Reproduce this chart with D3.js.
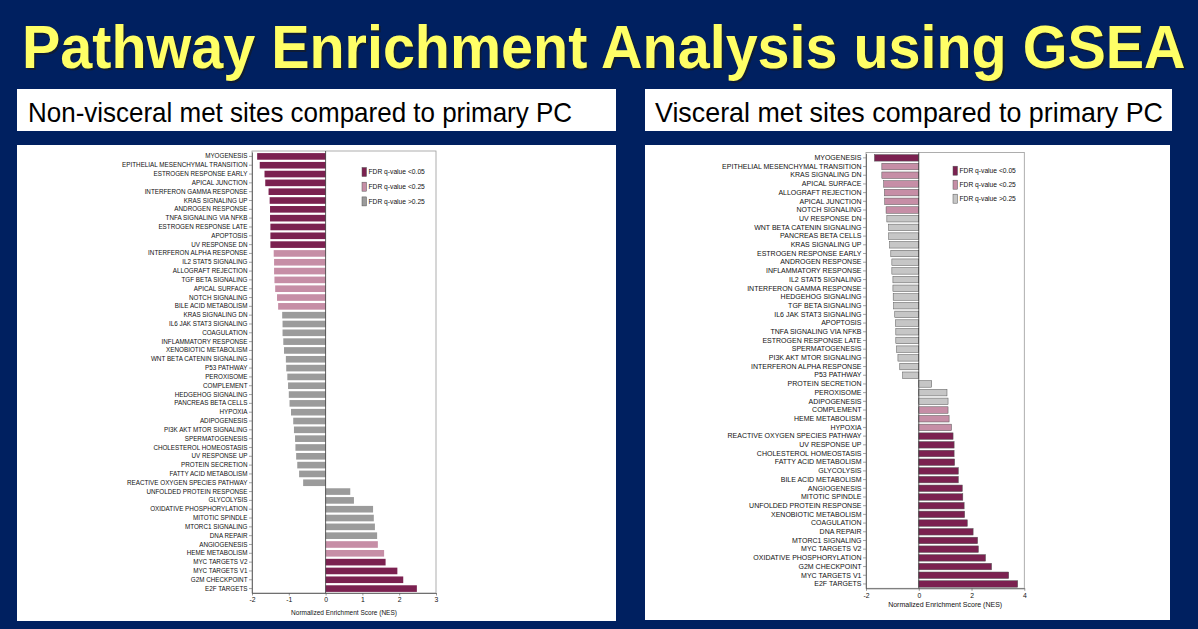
<!DOCTYPE html>
<html>
<head>
<meta charset="utf-8">
<script src="https://cdn.jsdelivr.net/npm/d3@7"></script>
<style>
  body { margin: 0; background: #002060; }
  svg { display: block; }
</style>
</head>
<body>
<svg id="slide" width="1198" height="629"></svg>
<script>
// FDR classes: "a" = q<0.05, "b" = q<0.25, "c" = q>0.25
const fdrLabels = ["FDR q-value <0.05", "FDR q-value <0.25", "FDR q-value >0.25"];

const leftPathways = [
  "MYOGENESIS", "EPITHELIAL MESENCHYMAL TRANSITION", "ESTROGEN RESPONSE EARLY", "APICAL JUNCTION",
  "INTERFERON GAMMA RESPONSE", "KRAS SIGNALING UP", "ANDROGEN RESPONSE", "TNFA SIGNALING VIA NFKB",
  "ESTROGEN RESPONSE LATE", "APOPTOSIS", "UV RESPONSE DN", "INTERFERON ALPHA RESPONSE",
  "IL2 STAT5 SIGNALING", "ALLOGRAFT REJECTION", "TGF BETA SIGNALING", "APICAL SURFACE",
  "NOTCH SIGNALING", "BILE ACID METABOLISM", "KRAS SIGNALING DN", "IL6 JAK STAT3 SIGNALING",
  "COAGULATION", "INFLAMMATORY RESPONSE", "XENOBIOTIC METABOLISM", "WNT BETA CATENIN SIGNALING",
  "P53 PATHWAY", "PEROXISOME", "COMPLEMENT", "HEDGEHOG SIGNALING",
  "PANCREAS BETA CELLS", "HYPOXIA", "ADIPOGENESIS", "PI3K AKT MTOR SIGNALING",
  "SPERMATOGENESIS", "CHOLESTEROL HOMEOSTASIS", "UV RESPONSE UP", "PROTEIN SECRETION",
  "FATTY ACID METABOLISM", "REACTIVE OXYGEN SPECIES PATHWAY", "UNFOLDED PROTEIN RESPONSE", "GLYCOLYSIS",
  "OXIDATIVE PHOSPHORYLATION", "MITOTIC SPINDLE", "MTORC1 SIGNALING", "DNA REPAIR",
  "ANGIOGENESIS", "HEME METABOLISM", "MYC TARGETS V2", "MYC TARGETS V1",
  "G2M CHECKPOINT", "E2F TARGETS"
];
const leftNES = [
  -1.86, -1.79, -1.66, -1.64, -1.55, -1.52, -1.51, -1.51, -1.50, -1.50,
  -1.50, -1.41, -1.40, -1.40, -1.39, -1.37, -1.32, -1.29, -1.18, -1.17,
  -1.17, -1.15, -1.13, -1.08, -1.07, -1.04, -1.02, -1.00, -0.98, -0.94,
  -0.88, -0.86, -0.83, -0.82, -0.80, -0.77, -0.72, -0.61, 0.67, 0.77,
  1.29, 1.31, 1.34, 1.40, 1.42, 1.59, 1.63, 1.95, 2.11, 2.48
];
const leftFDR = [
  "a", "a", "a", "a", "a", "a", "a", "a", "a", "a",
  "a", "b", "b", "b", "b", "b", "b", "b", "c", "c",
  "c", "c", "c", "c", "c", "c", "c", "c", "c", "c",
  "c", "c", "c", "c", "c", "c", "c", "c", "c", "c",
  "c", "c", "c", "c", "b", "b", "a", "a", "a", "a"
];
const leftTicks = [-2, -1, 0, 1, 2, 3];

const rightPathways = [
  "MYOGENESIS", "EPITHELIAL MESENCHYMAL TRANSITION", "KRAS SIGNALING DN", "APICAL SURFACE",
  "ALLOGRAFT REJECTION", "APICAL JUNCTION", "NOTCH SIGNALING", "UV RESPONSE DN",
  "WNT BETA CATENIN SIGNALING", "PANCREAS BETA CELLS", "KRAS SIGNALING UP", "ESTROGEN RESPONSE EARLY",
  "ANDROGEN RESPONSE", "INFLAMMATORY RESPONSE", "IL2 STAT5 SIGNALING", "INTERFERON GAMMA RESPONSE",
  "HEDGEHOG SIGNALING", "TGF BETA SIGNALING", "IL6 JAK STAT3 SIGNALING", "APOPTOSIS",
  "TNFA SIGNALING VIA NFKB", "ESTROGEN RESPONSE LATE", "SPERMATOGENESIS", "PI3K AKT MTOR SIGNALING",
  "INTERFERON ALPHA RESPONSE", "P53 PATHWAY", "PROTEIN SECRETION", "PEROXISOME",
  "ADIPOGENESIS", "COMPLEMENT", "HEME METABOLISM", "HYPOXIA",
  "REACTIVE OXYGEN SPECIES PATHWAY", "UV RESPONSE UP", "CHOLESTEROL HOMEOSTASIS", "FATTY ACID METABOLISM",
  "GLYCOLYSIS", "BILE ACID METABOLISM", "ANGIOGENESIS", "MITOTIC SPINDLE",
  "UNFOLDED PROTEIN RESPONSE", "XENOBIOTIC METABOLISM", "COAGULATION", "DNA REPAIR",
  "MTORC1 SIGNALING", "MYC TARGETS V2", "OXIDATIVE PHOSPHORYLATION", "G2M CHECKPOINT",
  "MYC TARGETS V1", "E2F TARGETS"
];
const rightNES = [
  -1.68, -1.40, -1.40, -1.33, -1.30, -1.29, -1.24, -1.21, -1.14, -1.14,
  -1.10, -1.06, -1.02, -1.02, -0.98, -0.98, -0.97, -0.95, -0.91, -0.88,
  -0.87, -0.87, -0.84, -0.79, -0.72, -0.61, 0.49, 1.07, 1.11, 1.11,
  1.15, 1.24, 1.30, 1.34, 1.34, 1.36, 1.50, 1.50, 1.65, 1.67,
  1.72, 1.74, 1.84, 2.06, 2.23, 2.26, 2.53, 2.76, 3.41, 3.75
];
const rightFDR = [
  "a", "b", "b", "b", "b", "b", "b", "c", "c", "c",
  "c", "c", "c", "c", "c", "c", "c", "c", "c", "c",
  "c", "c", "c", "c", "c", "c", "c", "c", "c", "b",
  "b", "b", "a", "a", "a", "a", "a", "a", "a", "a",
  "a", "a", "a", "a", "a", "a", "a", "a", "a", "a"
];
const rightTicks = [-2, 0, 2, 4];

const svg = d3.select("#slide");

// title: squeeze horizontally with a transform so it fills 22..1186
const title = "Pathway Enrichment Analysis using GSEA";
const titleG = svg.append("g");
const shadow = titleG.append("text")
    .attr("x", 2).attr("y", 2)
    .attr("font-family", "Liberation Sans, Arial, sans-serif")
    .attr("font-weight", "bold").attr("font-size", 62)
    .attr("fill", "#1a1a1a").attr("opacity", 0.6)
    .text(title);
const main = titleG.append("text")
    .attr("x", 0).attr("y", 0)
    .attr("font-family", "Liberation Sans, Arial, sans-serif")
    .attr("font-weight", "bold").attr("font-size", 62)
    .attr("fill", "#ffff66")
    .text(title);
const natural = main.node().getComputedTextLength();
titleG.attr("transform", `translate(22,68) scale(${1164 / natural},1)`);

function panel(opt) {
    // subtitle box
    svg.append("rect")
        .attr("x", opt.box[0]).attr("y", 89)
        .attr("width", opt.box[1] - opt.box[0]).attr("height", 42)
        .attr("fill", "#fff");
    svg.append("text")
        .attr("x", opt.subX).attr("y", 122)
        .attr("textLength", opt.subW).attr("lengthAdjust", "spacingAndGlyphs")
        .attr("font-family", "Liberation Sans, Arial, sans-serif")
        .attr("font-size", 28).attr("fill", "#000")
        .text(opt.subtitle);

    // chart background
    svg.append("rect")
        .attr("x", opt.box[0]).attr("y", 145)
        .attr("width", opt.chartR - opt.box[0]).attr("height", opt.chartB - 145)
        .attr("fill", "#fff");

    const g = svg.append("g");

    const x = d3.scaleLinear()
        .domain(d3.extent(opt.ticks))
        .range(opt.xRange);

    const y = d3.scaleBand()
        .domain(opt.names)
        .range(opt.yRange)
        .paddingInner(0.25)
        .paddingOuter(0.125);

    const top = opt.yRange[0] - 1;
    const bottom = opt.yRange[1];

    // frame
    g.append("rect")
        .attr("x", x.range()[0]).attr("y", top)
        .attr("width", x.range()[1] - x.range()[0]).attr("height", bottom - top)
        .attr("fill", "none").attr("stroke", "#9a9a9a").attr("stroke-width", 0.8);

    const color = { a: "#7b2150", b: "#c68ea6", c: opt.grey };
    const data = opt.names.map((n, i) => ({ name: n, nes: opt.nes[i], fdr: opt.fdr[i] }));

    g.selectAll(".bar")
        .data(data)
        .join("rect")
        .attr("class", "bar")
        .attr("x", d => x(Math.min(0, d.nes)))
        .attr("width", d => Math.abs(x(d.nes) - x(0)))
        .attr("y", d => y(d.name))
        .attr("height", y.bandwidth())
        .attr("fill", d => color[d.fdr])
        .attr("stroke", opt.barStroke)
        .attr("stroke-width", opt.barStroke === "none" ? 0 : 0.5);

    // zero line
    g.append("line")
        .attr("x1", x(0)).attr("x2", x(0))
        .attr("y1", top).attr("y2", bottom)
        .attr("stroke", "#333").attr("stroke-width", 0.8);

    const yAxis = g.append("g")
        .attr("transform", `translate(${x.range()[0]},0)`)
        .call(d3.axisLeft(y).tickSize(3).tickPadding(1.5).tickSizeOuter(0));
    yAxis.select(".domain").attr("stroke", "#555").attr("stroke-width", 0.8);
    yAxis.selectAll(".tick line").attr("stroke", "#666").attr("stroke-width", 0.6);
    yAxis.selectAll("text")
        .attr("font-family", "Liberation Sans, Arial, sans-serif")
        .attr("font-size", opt.labelSize).attr("fill", "#111");

    const xAxis = g.append("g")
        .attr("transform", `translate(0,${bottom})`)
        .call(d3.axisBottom(x).tickValues(opt.ticks).tickFormat(d => String(d))
            .tickSize(2.5).tickPadding(2).tickSizeOuter(0));
    xAxis.select(".domain").attr("stroke", "#555").attr("stroke-width", 0.8);
    xAxis.selectAll(".tick line").attr("stroke", "#555").attr("stroke-width", 0.6);
    xAxis.selectAll("text")
        .attr("font-family", "Liberation Sans, Arial, sans-serif")
        .attr("font-size", 6.8).attr("fill", "#111");

    g.append("text")
        .attr("x", (x.range()[0] + x.range()[1]) / 2)
        .attr("y", bottom + opt.titleGap)
        .attr("text-anchor", "middle")
        .attr("font-family", "Liberation Sans, Arial, sans-serif")
        .attr("font-size", opt.axisTitleSize).attr("fill", "#111")
        .text("Normalized Enrichment Score (NES)");

    // legend
    const lg = g.append("g");
    ["a", "b", "c"].forEach((k, i) => {
        const ly = opt.legend.y + i * opt.legend.step;
        lg.append("rect")
            .attr("x", opt.legend.x).attr("y", ly - 4.5)
            .attr("width", 4.5).attr("height", 9)
            .attr("fill", color[k]).attr("stroke", "#555").attr("stroke-width", 0.5);
        lg.append("text")
            .attr("x", opt.legend.x + 6.5).attr("y", ly + 2.3)
            .attr("font-family", "Liberation Sans, Arial, sans-serif")
            .attr("font-size", 6.7).attr("fill", "#111")
            .text(fdrLabels[i]);
    });
}

panel({
    box: [17, 616], chartR: 616, chartB: 621,
    subtitle: "Non-visceral met sites compared to primary PC", subX: 28, subW: 544,
    names: leftPathways, nes: leftNES, fdr: leftFDR, ticks: leftTicks,
    xRange: [252, 436], yRange: [152, 593],
    grey: "#9b9b9b", barStroke: "none", labelSize: 6.3,
    titleGap: 22, axisTitleSize: 6.5,
    legend: { x: 362, y: 172, step: 14.7 }
});

panel({
    box: [645, 1172], chartR: 1170, chartB: 620,
    subtitle: "Visceral met sites compared to primary PC", subX: 655, subW: 508,
    names: rightPathways, nes: rightNES, fdr: rightFDR, ticks: rightTicks,
    xRange: [866, 1024.3], yRange: [153.5, 588.3],
    grey: "#c6c6c6", barStroke: "#555", labelSize: 7,
    titleGap: 19, axisTitleSize: 7,
    legend: { x: 953, y: 170.7, step: 14 }
});
</script>
</body>
</html>
